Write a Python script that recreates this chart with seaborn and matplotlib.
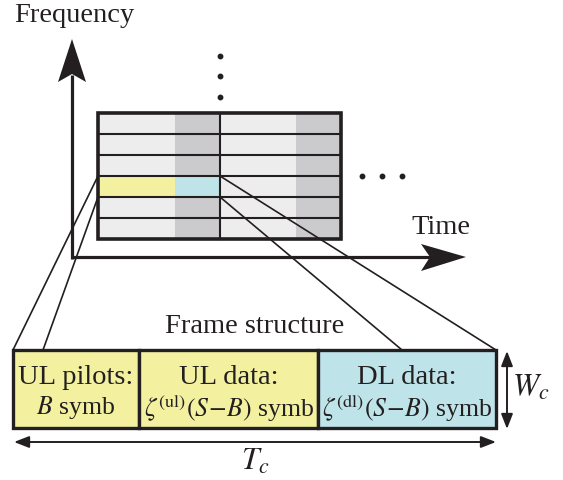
import matplotlib
matplotlib.use("Agg")
import matplotlib.pyplot as plt
import seaborn as sns
from matplotlib.patches import Rectangle, Polygon, FancyArrowPatch

sns.set_theme(style="white")
plt.rcParams['font.family'] = ['Liberation Serif', 'DejaVu Serif']
plt.rcParams['mathtext.fontset'] = 'stix'

# ---- diagram content ----
axis_labels = ["Frequency", "Time"]
n_rows = 6
highlight_row = 3
grid_halves = 2
cell_colors = {"light": "#ededed", "dark": "#cbcbcd"}
frame_titles = ["UL pilots:", "UL data:", "DL data:"]
frame_subtitles = [r"$B$ symb",
                   r"$\zeta^{(\mathrm{ul})}(S\!-\!B)$ symb",
                   r"$\zeta^{(\mathrm{dl})}(S\!-\!B)$ symb"]
frame_colors = ["#f3f1a0", "#f3f1a0", "#bee3e8"]
frame_title = "Frame structure"
dim_labels = [r"$T_c$", r"$W_c$"]

INK = "#231f20"
FS = 20.5

fig = plt.figure(figsize=(5.63, 4.81), dpi=100)
ax = fig.add_axes([0, 0, 1, 1])
ax.set_xlim(0, 563)
ax.set_ylim(481, 0)
ax.axis("off")

# ---- axes arrows ----
ax.plot([72, 72], [260, 76], color=INK, lw=2.3, solid_capstyle="butt")
ax.plot([71, 432], [258, 258], color=INK, lw=2.3, solid_capstyle="butt")
ax.add_patch(Polygon([(72, 40), (58, 83), (72, 75), (86, 83)], closed=True,
                     color=INK, lw=0))
ax.add_patch(Polygon([(466, 258), (421, 245), (430, 258), (421, 272)], closed=True,
                     color=INK, lw=0))
ax.text(14, 16, axis_labels[0], fontsize=FS, color=INK, ha="left", va="center")
ax.text(441, 228, axis_labels[1], fontsize=FS, color=INK, ha="center", va="center")

# ellipses
for y in (57, 77, 98):
    ax.plot(220, y, "o", color=INK, ms=3.2)
for x in (362, 382, 402):
    ax.plot(x, 177, "o", color=INK, ms=3.2)

# ---- resource grid ----
gx0, gx1, gy0, gy1 = 98, 341, 114, 240
xmid = 220
dark_w = 45
rh = (gy1 - gy0) / n_rows
ax.add_patch(Rectangle((gx0, gy0), gx1 - gx0, gy1 - gy0, fc=cell_colors["light"], ec="none"))
for xr in (xmid, gx1):
    ax.add_patch(Rectangle((xr - dark_w, gy0), dark_w, gy1 - gy0,
                           fc=cell_colors["dark"], ec="none"))
hy0 = gy0 + highlight_row * rh
ax.add_patch(Rectangle((gx0, hy0), (xmid - dark_w) - gx0, rh, fc=frame_colors[0], ec="none"))
ax.add_patch(Rectangle((xmid - dark_w, hy0), dark_w, rh, fc=frame_colors[2], ec="none"))
for i in range(1, n_rows):
    y = gy0 + i * rh
    ax.plot([gx0, gx1], [y, y], color=INK, lw=1.5)
ax.plot([xmid, xmid], [gy0, gy1], color=INK, lw=1.5)
ax.add_patch(Rectangle((gx0, gy0), gx1 - gx0, gy1 - gy0, fc="none", ec=INK, lw=2.6))

# ---- frame box ----
fx = [13, 139, 318, 496]
fy0, fy1 = 351, 429
for i in range(3):
    ax.add_patch(Rectangle((fx[i], fy0), fx[i + 1] - fx[i], fy1 - fy0,
                           fc=frame_colors[i], ec=INK, lw=2.4))
    cx = (fx[i] + fx[i + 1]) / 2
    ax.text(cx, 378, frame_titles[i], fontsize=FS, color=INK, ha="center", va="center")
    ax.text(cx, 408, frame_subtitles[i], fontsize=FS - 2, color=INK, ha="center", va="center")
ax.text(255, 327, frame_title, fontsize=FS, color=INK, ha="center", va="center")

# zoom lines
for (x0, y0), (x1, y1) in [((gx0, hy0), (fx[0], fy0)), ((gx0, hy0 + rh), (43, fy0)),
                           ((xmid, hy0), (fx[3], fy0)), ((xmid, hy0 + rh), (402, fy0))]:
    ax.plot([x0, x1], [y0, y1], color=INK, lw=1.2)

# dimension arrows
ax.add_patch(FancyArrowPatch((14, 443), (496, 443), arrowstyle="<|-|>,head_length=9,head_width=3.5",
                             mutation_scale=1, color=INK, lw=1.4, shrinkA=0, shrinkB=0))
ax.add_patch(FancyArrowPatch((507, 352), (507, 430), arrowstyle="<|-|>,head_length=9,head_width=3.5",
                             mutation_scale=1, color=INK, lw=1.4, shrinkA=0, shrinkB=0))
ax.text(255, 462, dim_labels[0], fontsize=FS + 2, color=INK, ha="center", va="center")
ax.text(531, 388, dim_labels[1], fontsize=FS + 2, color=INK, ha="center", va="center")

fig.savefig("out.png", dpi=100, facecolor="white")
